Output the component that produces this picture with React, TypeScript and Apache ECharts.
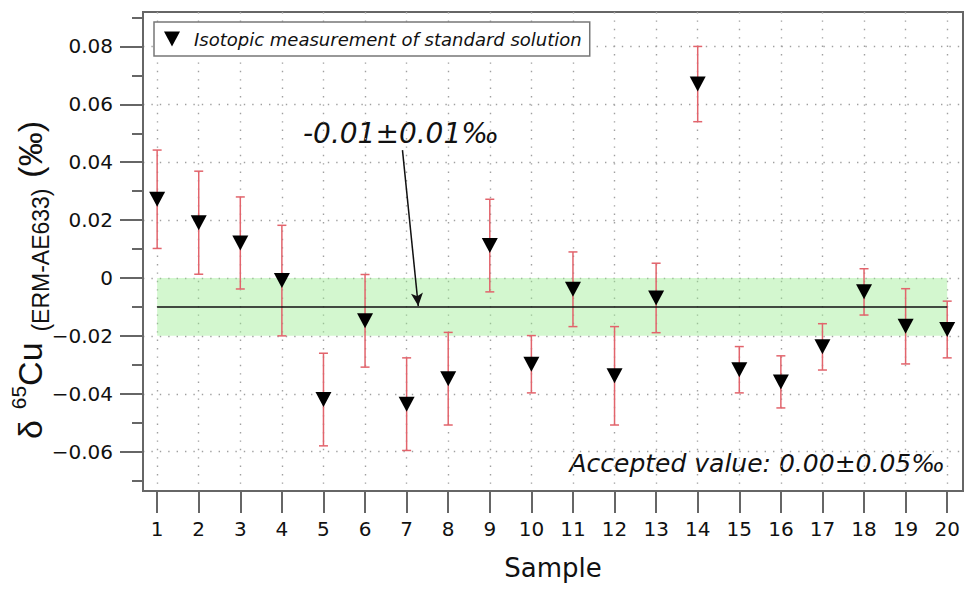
import React, { useEffect, useRef } from 'react';
import * as echarts from 'echarts';

// ---- data ----
const samples = [1, 2, 3, 4, 5, 6, 7, 8, 9, 10, 11, 12, 13, 14, 15, 16, 17, 18, 19, 20];
const values = [
  0.0272, 0.0191, 0.0121, -0.0009, -0.042, -0.0148, -0.0436, -0.0348, 0.0112, -0.0298,
  -0.0039, -0.0338, -0.0069, 0.067, -0.0317, -0.0359, -0.0238, -0.0048, -0.0167, -0.0178,
];
const errors = [
  0.017, 0.0178, 0.0159, 0.0191, 0.016, 0.016, 0.016, 0.016, 0.016, 0.0099,
  0.0129, 0.017, 0.012, 0.013, 0.008, 0.009, 0.008, 0.008, 0.013, 0.0098,
];
const yMajorTicks = [-0.06, -0.04, -0.02, 0, 0.02, 0.04, 0.06, 0.08];
const yMinorTicks = [-0.07, -0.05, -0.03, -0.01, 0.01, 0.03, 0.05, 0.07, 0.09];
const meanValue = -0.01;
const bandLow = -0.02;
const bandHigh = 0;
const arrowFrom = [6.9, 0.0442];
const arrowTo = [7.28, -0.0097];
const legendName = 'Isotopic measurement of standard solution';
const meanLabel = '-0.01±0.01‰';
const acceptedLabel = 'Accepted value: 0.00±0.05‰';

const FAMILY = '"DejaVu Sans", "Noto Sans", sans-serif';
const AXIS_COLOR = '#666';
const GRID_DOT = { color: '#a0a0a0', width: 1.4, type: [1.4, 7] as number[] };

function fmtY(v: number) {
  if (Math.abs(v) < 1e-9) return '0';
  const s = Math.abs(v).toFixed(2);
  return v < 0 ? '\u2212' + s : s;
}

export default function App() {
  const ref = useRef<HTMLDivElement>(null);
  useEffect(() => {
    if (!ref.current) return;
    const chart = echarts.init(ref.current, null, { renderer: 'svg' });
    const yCommon = {
      type: 'value',
      min: -0.0736,
      max: 0.0919,
      splitNumber: 8,
      minInterval: 0.02,
      maxInterval: 0.02,
      position: 'left',
    };
    const option: any = {
      animation: false,
      backgroundColor: '#fff',
      grid: {
        left: 143,
        right: 6,
        top: 12,
        bottom: 99,
        show: true,
        borderColor: AXIS_COLOR,
        borderWidth: 2,
        backgroundColor: 'transparent',
      },
      legend: {
        data: [{ name: legendName, icon: 'path://M0,0 L16,0 L8,15 Z' }],
        left: 154,
        top: 22,
        padding: [8, 8, 8, 10],
        itemWidth: 34,
        itemHeight: 15,
        backgroundColor: '#fff',
        borderColor: '#777',
        borderWidth: 1.5,
        borderRadius: 0,
        selectedMode: false,
        itemStyle: { color: '#000' },
        textStyle: { fontStyle: 'italic', fontSize: 18, fontFamily: FAMILY, color: '#111' },
      },
      xAxis: {
        type: 'value',
        min: 0.66,
        max: 20.38,
        splitNumber: 20,
        minInterval: 1,
        maxInterval: 1,
        axisLine: { show: true, onZero: false, lineStyle: { color: AXIS_COLOR, width: 2 } },
        axisTick: {
          show: true,
          customValues: samples,
          length: 22,
          lineStyle: { color: AXIS_COLOR, width: 2 },
        },
        axisLabel: {
          customValues: samples,
          formatter: (v: number) => String(v),
          fontSize: 20,
          fontFamily: FAMILY,
          color: '#111',
          margin: 28,
        },
        splitLine: { show: true, lineStyle: GRID_DOT },
        name: 'Sample',
        nameLocation: 'middle',
        nameGap: 64,
        nameTextStyle: { fontSize: 26, fontFamily: FAMILY, color: '#111' },
      },
      yAxis: [
        {
          ...yCommon,
          axisLine: { show: true, onZero: false, lineStyle: { color: AXIS_COLOR, width: 2 } },
          axisTick: {
            show: true,
            customValues: yMajorTicks,
            length: 23,
            lineStyle: { color: AXIS_COLOR, width: 2 },
          },
          axisLabel: {
            customValues: yMajorTicks,
            formatter: fmtY,
            fontSize: 20,
            fontFamily: FAMILY,
            color: '#111',
            margin: 30,
          },
          splitLine: { show: true, lineStyle: GRID_DOT },
        },
        {
          ...yCommon,
          axisLine: { show: false, onZero: false },
          axisTick: {
            show: true,
            customValues: yMinorTicks,
            length: 11,
            lineStyle: { color: AXIS_COLOR, width: 2 },
          },
          axisLabel: { show: false },
          splitLine: { show: false },
        },
      ],
      series: [
        {
          name: 'band',
          type: 'line',
          data: [],
          z: 1,
          silent: true,
          markArea: {
            silent: true,
            itemStyle: { color: 'rgba(150, 235, 140, 0.42)' },
            data: [[{ coord: [samples[0], bandHigh] }, { coord: [samples[samples.length - 1], bandLow] }]],
          },
          markLine: {
            silent: true,
            symbol: ['none', 'none'],
            label: { show: false },
            lineStyle: { color: '#111', width: 1.5, type: 'solid' },
            data: [
              [
                { coord: [samples[0], meanValue] },
                { coord: [samples[samples.length - 1], meanValue] },
              ],
              [
                { coord: arrowFrom, symbol: 'none' },
                { coord: arrowTo, symbol: 'arrow', symbolSize: [9, 13] },
              ],
            ],
          },
        },
        {
          name: 'err',
          type: 'custom',
          z: 2,
          encode: { x: 0, y: [1, 2] },
          data: samples.map((s, i) => [s, values[i] - errors[i], values[i] + errors[i]]),
          renderItem: (params: any, api: any) => {
            const x = api.value(0);
            const top = api.coord([x, api.value(2)]);
            const bot = api.coord([x, api.value(1)]);
            const w = 4.5;
            const style = { stroke: '#e2646c', lineWidth: 1.5 };
            return {
              type: 'group',
              children: [
                { type: 'line', shape: { x1: top[0], y1: top[1], x2: bot[0], y2: bot[1] }, style },
                { type: 'line', shape: { x1: top[0] - w, y1: top[1], x2: top[0] + w, y2: top[1] }, style },
                { type: 'line', shape: { x1: bot[0] - w, y1: bot[1], x2: bot[0] + w, y2: bot[1] }, style },
              ],
            };
          },
        },
        {
          name: legendName,
          type: 'scatter',
          z: 3,
          symbol: 'triangle',
          symbolRotate: 180,
          symbolSize: [16, 15],
          itemStyle: { color: '#000', opacity: 1 },
          data: samples.map((s, i) => [s, values[i]]),
        },
      ],
      graphic: [
        {
          type: 'text',
          x: 30,
          y: 280,
          rotation: Math.PI / 2,
          style: {
            text: '{big|δ} {sup|65}{big|Cu} {sub|(ERM-AE633)} {big|(‰)}',
            align: 'center',
            verticalAlign: 'middle',
            fill: '#111',
            font: `34px ${FAMILY}`,
            rich: {
              big: { font: `34px ${FAMILY}`, fontSize: 34, fill: '#111', lineHeight: 44, verticalAlign: 'middle' },
              sup: { font: `21px ${FAMILY}`, fontSize: 21, fill: '#111', verticalAlign: 'top', lineHeight: 44 },
              sub: { font: `23px ${FAMILY}`, fontSize: 23, fill: '#111', verticalAlign: 'bottom', lineHeight: 44 },
            },
          },
        },
        {
          type: 'text',
          x: 401,
          y: 133,
          style: {
            text: meanLabel,
            align: 'center',
            verticalAlign: 'middle',
            fill: '#111',
            font: `italic 28px ${FAMILY}`,
          },
        },
        {
          type: 'text',
          x: 945,
          y: 463,
          style: {
            text: acceptedLabel,
            align: 'right',
            verticalAlign: 'middle',
            fill: '#111',
            font: `italic 25px ${FAMILY}`,
          },
        },
      ],
    };
    chart.setOption(option);
    return () => chart.dispose();
  }, []);
  return (
    <div
      ref={ref}
      style={{ position: 'fixed', left: 0, top: 0, width: 969, height: 590, background: '#fff' }}
    />
  );
}
